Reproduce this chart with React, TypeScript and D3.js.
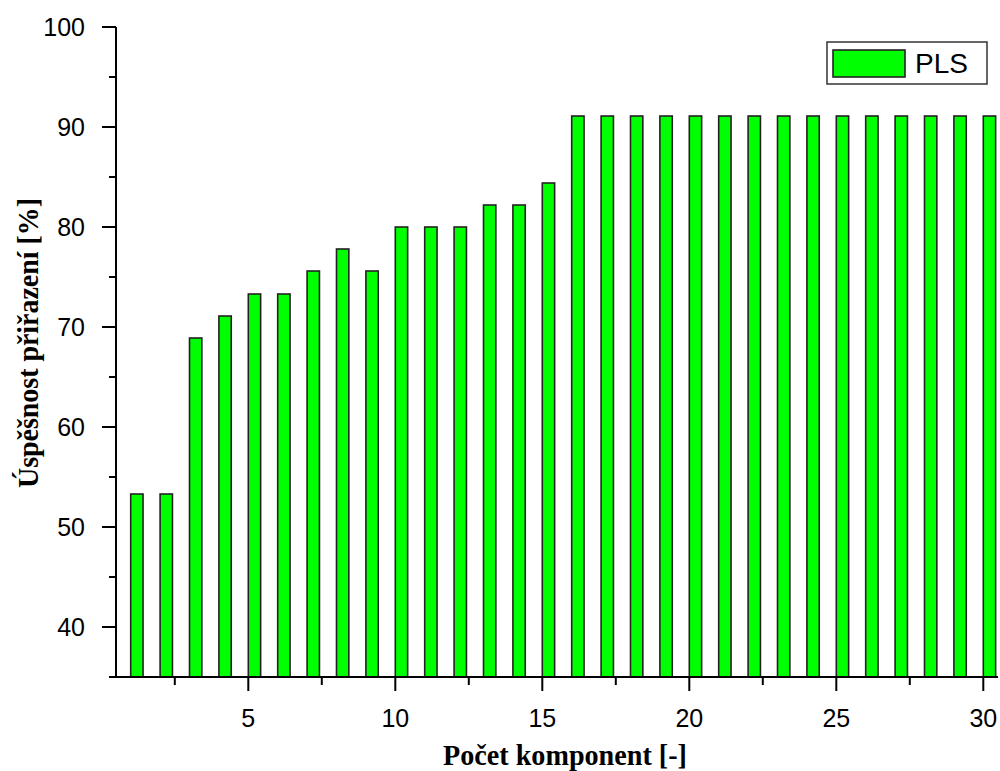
import React from "react";
import * as d3 from "d3";

const components: number[] = Array.from({ length: 30 }, (_, i) => i + 1);
const success: number[] = [
  53.3, 53.3, 68.9, 71.1, 73.3, 73.3, 75.6, 77.8, 75.6, 80.0,
  80.0, 80.0, 82.2, 82.2, 84.4, 91.1, 91.1, 91.1, 91.1, 91.1,
  91.1, 91.1, 91.1, 91.1, 91.1, 91.1, 91.1, 91.1, 91.1, 91.1,
];
const yMajorTicks: number[] = [40, 50, 60, 70, 80, 90, 100];
const yMinorTicks: number[] = [35, 45, 55, 65, 75, 85, 95];
const xMajorTicks: number[] = [5, 10, 15, 20, 25, 30];
const xMinorTicks: number[] = [2.5, 7.5, 12.5, 17.5, 22.5, 27.5];
const seriesName = "PLS";
const xTitle = "Počet komponent [-]";
const yTitle = "Úspěšnost přiřazení [%]";

export default function App() {
  const W = 1000, H = 771;
  const left = 116, right = 998, top = 27, bottom = 677;
  const x = d3.scaleLinear().domain([0.5, 30.5]).range([left, right]);
  const y = d3.scaleLinear().domain([35, 100]).range([bottom, top]);
  const barW = x(1.42) - x(1);
  const sans = "'Liberation Sans', Arial, sans-serif";
  const serif = "'Liberation Serif', 'Times New Roman', serif";
  return (
    <svg width={W} height={H} style={{ position: "absolute", left: 0, top: 0, background: "#fff" }}>
      {components.map((c, i) => (
        <rect key={c} x={x(c)} y={y(success[i])} width={barW} height={y(35) - y(success[i])}
          fill="#00ff00" stroke="#222" strokeWidth={1.6} />
      ))}
      {/* axes */}
      <line x1={left} x2={left} y1={top} y2={bottom} stroke="#000" strokeWidth={2} />
      <line x1={left} x2={right} y1={bottom} y2={bottom} stroke="#000" strokeWidth={2} />
      {yMajorTicks.map(t => (
        <g key={"ym" + t}>
          <line x1={left - 14} x2={left} y1={y(t)} y2={y(t)} stroke="#000" strokeWidth={2} />
          <text x={85} y={y(t)} dy="0.36em" textAnchor="end" fontFamily={sans} fontSize={25} fill="#000">{t}</text>
        </g>
      ))}
      {yMinorTicks.map(t => (
        <line key={"yn" + t} x1={left - 7} x2={left} y1={y(t)} y2={y(t)} stroke="#000" strokeWidth={2} />
      ))}
      {xMajorTicks.map(t => (
        <g key={"xm" + t}>
          <line x1={x(t)} x2={x(t)} y1={bottom} y2={bottom + 14} stroke="#000" strokeWidth={2} />
          <text x={x(t)} y={727} textAnchor="middle" fontFamily={sans} fontSize={25} fill="#000">{t}</text>
        </g>
      ))}
      {xMinorTicks.map(t => (
        <line key={"xn" + t} x1={x(t)} x2={x(t)} y1={bottom} y2={bottom + 8} stroke="#000" strokeWidth={2} />
      ))}
      {/* titles */}
      <text x={(443 + 687) / 2} y={765} textAnchor="middle" fontFamily={serif} fontWeight="bold" fontSize={29}
        textLength={244} lengthAdjust="spacingAndGlyphs" fill="#000">{xTitle}</text>
      <text transform={`translate(38, 343) rotate(-90)`} textAnchor="middle" fontFamily={serif} fontWeight="bold" fontSize={29}
        textLength={290} lengthAdjust="spacingAndGlyphs" fill="#000">{yTitle}</text>
      {/* legend */}
      <rect x={827} y={42} width={160} height={42} fill="#fff" stroke="#333" strokeWidth={1.5} />
      <rect x={833} y={50} width={72} height={27} fill="#00ff00" stroke="#222" strokeWidth={1.6} />
      <text x={915} y={73} fontFamily={sans} fontSize={28} fill="#000">{seriesName}</text>
    </svg>
  );
}
